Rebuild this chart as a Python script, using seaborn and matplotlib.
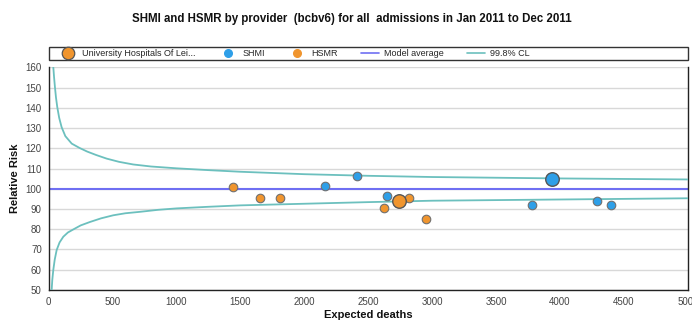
import matplotlib
matplotlib.use("Agg")
import matplotlib.pyplot as plt
from matplotlib.lines import Line2D
from matplotlib.patches import Rectangle
import seaborn as sns
import pandas as pd

# ---- data ----
shmi_expected = [2165, 2415, 2650, 3780, 4290, 4400]
shmi_rr = [101.5, 106.2, 96.5, 92.2, 93.8, 92.2]
hsmr_expected = [1440, 1650, 1810, 2620, 2815, 2950]
hsmr_rr = [100.7, 95.6, 95.2, 90.7, 95.2, 85.0]
trust_name = "University Hospitals Of Lei..."
trust_shmi_expected = [3935]
trust_shmi_rr = [104.8]
trust_hsmr_expected = [2740]
trust_hsmr_rr = [94.0]

model_average = 100
cl_upper_x = [36, 42, 49, 57, 67, 82, 101, 130, 180, 240, 300, 370, 453, 550, 661,
              800, 1000, 1250, 1500, 2000, 2500, 3000, 4000, 5000]
cl_upper_y = [160, 155, 150, 145, 140.3, 135, 130.4, 126.0, 122.3, 120.2, 118.4, 116.7,
              114.9, 113.3, 112.0, 111.0, 110.1, 109.2, 108.4, 107.2, 106.4, 105.8, 105.1, 104.6]
cl_lower_x = [23, 28, 36, 47, 62, 85, 114, 150, 192, 250, 323, 410, 505, 600, 713,
              856, 1000, 1250, 1500, 2000, 2500, 3000, 4000, 5000]
cl_lower_y = [50, 55, 60, 65, 69.7, 73.5, 76.3, 78.4, 79.9, 81.9, 83.6, 85.4, 86.9, 87.9,
              88.6, 89.6, 90.3, 91.1, 91.8, 92.6, 93.4, 94.1, 94.7, 95.3]

x_ticks = [0, 500, 1000, 1500, 2000, 2500, 3000, 3500, 4000, 4500, 5000]
y_ticks = [50, 60, 70, 80, 90, 100, 110, 120, 130, 140, 150, 160]

title = "SHMI and HSMR by provider  (bcbv6) for all  admissions in Jan 2011 to Dec 2011"

BLUE = "#2E9FE8"
ORANGE = "#F0952E"
AVG = "#6F6FF2"
CL = "#6CC0BE"
EDGE = "#707070"

sns.set_theme(style="white")
plt.rcParams["font.family"] = ["Liberation Sans", "DejaVu Sans"]

fig = plt.figure(figsize=(6.92, 3.20), dpi=100)
ax = fig.add_axes([0.0704, 0.0938, 0.9236, 0.6959])

df_up = pd.DataFrame({"x": cl_upper_x, "y": cl_upper_y})
df_lo = pd.DataFrame({"x": cl_lower_x, "y": cl_lower_y})
sns.lineplot(data=df_up, x="x", y="y", ax=ax, color=CL, lw=1.3, zorder=3)
sns.lineplot(data=df_lo, x="x", y="y", ax=ax, color=CL, lw=1.3, zorder=3)
ax.axhline(model_average, color=AVG, lw=1.5, zorder=2)

sns.scatterplot(x=hsmr_expected, y=hsmr_rr, ax=ax, color=ORANGE, s=38,
                edgecolor=EDGE, linewidth=0.8, zorder=5)
sns.scatterplot(x=shmi_expected, y=shmi_rr, ax=ax, color=BLUE, s=38,
                edgecolor=EDGE, linewidth=0.8, zorder=5)
sns.scatterplot(x=trust_hsmr_expected, y=trust_hsmr_rr, ax=ax, color=ORANGE, s=95,
                edgecolor="#555555", linewidth=1.0, zorder=6)
sns.scatterplot(x=trust_shmi_expected, y=trust_shmi_rr, ax=ax, color=BLUE, s=95,
                edgecolor="#555555", linewidth=1.0, zorder=6)

ax.set_xlim(0, 5000)
ax.set_ylim(50, 160)
ax.set_xticks(x_ticks)
ax.set_yticks(y_ticks)
ax.set_xticklabels([str(t) for t in x_ticks])
ax.set_yticklabels([str(t) for t in y_ticks])
ax.yaxis.grid(True, color="#D8D8D8", lw=1.0)
ax.xaxis.grid(False)
ax.tick_params(axis="both", labelsize=7, colors="#444444", length=3, width=0.8,
               direction="out", pad=2)
for side in ["left", "bottom", "right"]:
    ax.spines[side].set_color("#222222")
    ax.spines[side].set_linewidth(1.0)
ax.spines["top"].set_visible(False)
ax.set_xlabel("Expected deaths", fontsize=8, fontweight="bold", color="#111111", labelpad=2)
ax.set_ylabel("Relative Risk", fontsize=8, fontweight="bold", color="#111111", labelpad=4)

fig.suptitle(title, x=0.509, y=0.96, fontsize=8.3, fontweight="bold", color="#111111")

# legend frame
fig.patches.append(Rectangle((0.0704, 0.811), 0.9236, 0.043, transform=fig.transFigure,
                             facecolor="white", edgecolor="#333333", lw=1.0))
handles = [
    Line2D([], [], ls="", marker="o", ms=9, mfc=ORANGE, mec="#555555", mew=0.9),
    Line2D([], [], ls="", marker="o", ms=5.5, mfc=BLUE, mec=BLUE),
    Line2D([], [], ls="", marker="o", ms=5.5, mfc=ORANGE, mec=ORANGE),
    Line2D([], [], color=AVG, lw=1.2),
    Line2D([], [], color=CL, lw=1.2),
]
labels = [trust_name, "SHMI", "HSMR", "Model average", "99.8% CL"]
fig.legend(handles, labels, loc="center left", bbox_to_anchor=(0.077, 0.8325), ncol=5,
           frameon=False, fontsize=6.5, handlelength=2.0, handletextpad=0.6,
           columnspacing=2.55, borderpad=0.1)

fig.savefig("out.png", dpi=100)
